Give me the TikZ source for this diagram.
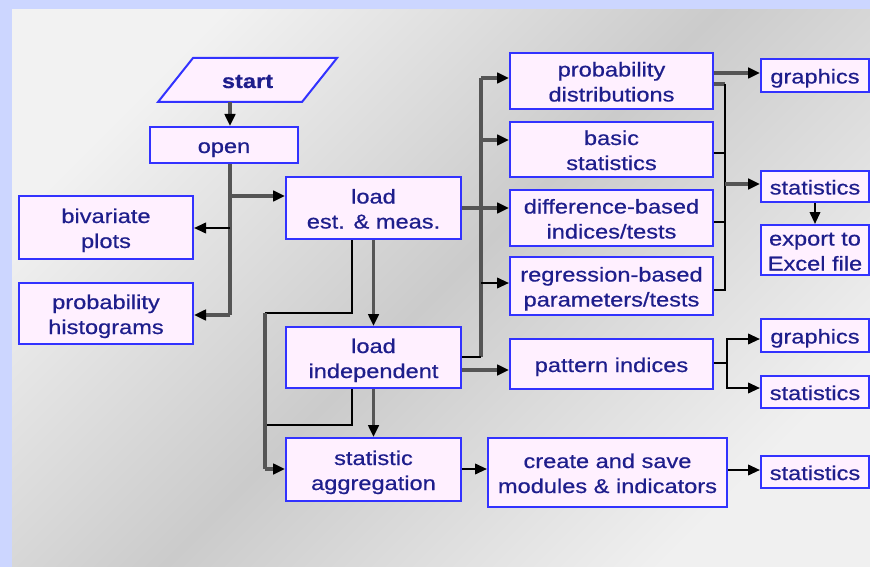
\documentclass[tikz,border=0pt]{standalone}
\usepackage{fontspec}
\setmainfont{Liberation Sans}[FakeStretch=1.18, FakeBold=0.6]
\usetikzlibrary{arrows.meta}
\definecolor{bgblue}{RGB}{204,214,255}
\definecolor{boxblue}{RGB}{50,50,255}
\definecolor{boxfill}{RGB}{255,240,255}
\definecolor{txtblue}{RGB}{30,30,140}
\definecolor{lngray}{RGB}{85,85,85}
\definecolor{bgA}{RGB}{242,242,242}
\definecolor{bgB}{RGB}{203,203,203}
\definecolor{bgC}{RGB}{240,240,240}
\newcommand{\btxt}[1]{\raisebox{-3pt}[\height][\depth]{\begin{tabular}{@{}c@{}}#1\end{tabular}}}
\begin{document}
\begin{tikzpicture}[x=1pt,y=-1pt,
  box/.style={draw=boxblue, fill=boxfill, line width=2pt, inner sep=0pt,
    text=txtblue, font=\fontsize{20}{25}\selectfont},
  plain/.style={inner sep=0pt, text=txtblue, font=\fontsize{20}{25}\selectfont},
  gl/.style={draw=lngray, line width=3.4pt},
  bl/.style={draw=black, line width=2.2pt},
  arr/.style={-{Triangle[length=12pt,width=10.5pt,color=black]}}
]
\useasboundingbox (0,0) rectangle (870,567);
\fill[bgblue] (0,0) rectangle (870,567);
\begin{scope}[y=1pt]
\shade[shading=axis, top color=bgA, bottom color=bgC, middle color=bgB, shading angle=45]
  (12,-567) rectangle (870,-10);
\end{scope}

% start parallelogram
\draw[draw=boxblue, fill=boxfill, line width=2pt] (158,102) -- (193,58) -- (337,58) -- (302,102) -- cycle;
\node[plain, minimum width=144pt, minimum height=44pt] (start) at (247.5,80) {\btxt{\textbf{start}}};

% left column
\node[box, minimum width=148pt, minimum height=36pt] (open) at (224,145) {\btxt{open}};
\node[box, minimum width=174pt, minimum height=63pt] (biv) at (106,227.5) {\btxt{bivariate\\plots}};
\node[box, minimum width=174pt, minimum height=61pt] (hist) at (106,313.5) {\btxt{probability\\histograms}};

% middle column
\node[box, minimum width=175pt, minimum height=62pt] (load) at (373.5,208) {\btxt{load\\est. \& meas.}};
\node[box, minimum width=175pt, minimum height=61pt] (indep) at (373.5,357.5) {\btxt{load\\independent}};
\node[box, minimum width=175pt, minimum height=63pt] (agg) at (373.5,469.5) {\btxt{statistic\\aggregation}};

% right column
\node[box, minimum width=203pt, minimum height=56pt] (pdist) at (611.5,81) {\btxt{probability\\distributions}};
\node[box, minimum width=203pt, minimum height=55pt] (basic) at (611.5,149.5) {\btxt{basic\\statistics}};
\node[box, minimum width=203pt, minimum height=56pt] (diff) at (611.5,218) {\btxt{difference-based\\indices/tests}};
\node[box, minimum width=203pt, minimum height=58pt] (regr) at (611.5,286) {\btxt{regression-based\\parameters/tests}};
\node[box, minimum width=203pt, minimum height=50pt] (pat) at (611.5,364) {\btxt{pattern indices}};
\node[box, minimum width=239pt, minimum height=69pt] (create) at (607.5,472.5) {\btxt{create and save\\modules \& indicators}};

% far right
\node[box, minimum width=108pt, minimum height=33pt] (graph1) at (815,75.5) {\btxt{graphics}};
\node[box, minimum width=108pt, minimum height=31pt] (stat1) at (815,186.5) {\btxt{statistics}};
\node[box, minimum width=108pt, minimum height=50pt] (export) at (815,250) {\btxt{export to\\Excel file}};
\node[box, minimum width=108pt, minimum height=33pt] (graph2) at (815,335.5) {\btxt{graphics}};
\node[box, minimum width=108pt, minimum height=32pt] (stat2) at (815,392) {\btxt{statistics}};
\node[box, minimum width=108pt, minimum height=32pt] (stat3) at (815,472) {\btxt{statistics}};

% joints
\coordinate (tA) at (230,315);
\coordinate (jOL) at (230,196);
\coordinate (jOB) at (230,228);
\coordinate (xL) at (352,313);
\coordinate (xL2) at (352,425);
\coordinate (vL1) at (265,313);
\coordinate (vL2) at (265,425);
\coordinate (vL3) at (265,469);
\coordinate (rA1) at (481,78);
\coordinate (rA2) at (481,140);
\coordinate (rA3) at (481,283);
\coordinate (rA4) at (481,357);
\coordinate (rB1) at (725,84);
\coordinate (rB2) at (725,153);
\coordinate (rB3) at (725,222);
\coordinate (rB4) at (725,290);
\coordinate (rB5) at (725,184);
\coordinate (pT) at (727,339);
\coordinate (pM) at (727,363);
\coordinate (pB) at (727,388);

% left connectors
\draw[gl,arr] (start.south -| tA) -- (open.north -| tA);
\draw[gl] (open.south -| tA) -- (tA);
\draw[gl,arr] (jOL) -- (jOL -| load.west);
\draw[bl,arr] (jOB) -- (jOB -| biv.east);
\draw[gl,arr] (tA) -- (tA -| hist.east);

% middle connectors
\draw[gl,arr] (load.south) -- (indep.north);
\draw[gl,arr] (indep.south) -- (agg.north);
\draw[bl] (load.south -| xL) -- (xL) -- (vL1);
\draw[bl] (indep.south -| xL2) -- (xL2) -- (vL2);
\draw[gl] (vL1) -- (vL3);
\draw[gl,arr] (vL3) -- (vL3 -| agg.west);

% trunk A
\draw[gl] (rA1) -- (rA4);
\draw[bl] (indep.east |- rA4) -- (rA4);
\draw[gl,arr] (rA1) -- (rA1 -| pdist.west);
\draw[gl,arr] (rA2) -- (rA2 -| basic.west);
\draw[gl,arr] (load.east) -- (load.east -| diff.west);
\draw[bl,arr] (rA3) -- (rA3 -| regr.west);
\draw[gl,arr] (indep.east |- 0,370) -- (pat.west |- 0,370);

% trunk B
\draw[gl,arr] (pdist.east |- 0,73) -- (graph1.west |- 0,73);
\draw[gl] (pdist.east |- rB1) -- (rB1);
\draw[bl] (rB1) -- (rB4) -- (rB4 -| regr.east);
\draw[bl] (basic.east |- rB2) -- (rB2);
\draw[bl] (diff.east |- rB3) -- (rB3);
\draw[gl,arr] (rB5) -- (rB5 -| stat1.west);
\draw[bl,arr] (stat1.south) -- (export.north);

% pattern
\draw[bl] (pat.east |- pM) -- (pM);
\draw[bl,arr] (pM) -- (pT) -- (pT -| graph2.west);
\draw[bl,arr] (pM) -- (pB) -- (pB -| stat2.west);

% bottom row
\draw[bl,arr] (agg.east |- 0,469) -- (create.west |- 0,469);
\draw[bl,arr] (create.east |- 0,470) -- (stat3.west |- 0,470);
\end{tikzpicture}
\end{document}
